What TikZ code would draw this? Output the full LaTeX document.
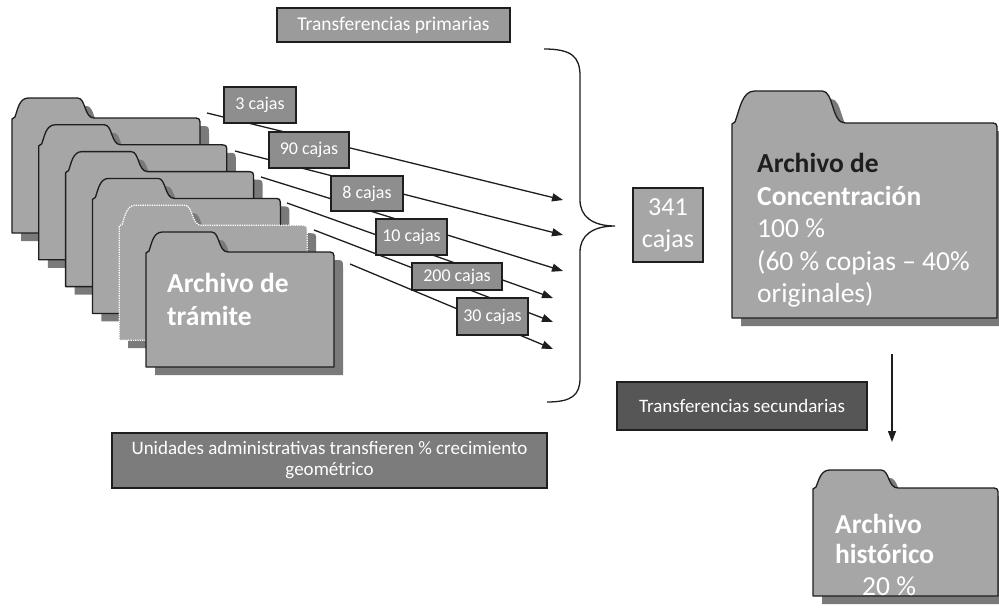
\documentclass[tikz,border=0pt]{standalone}
\usepackage{fontspec}
\setmainfont{Carlito}
\usetikzlibrary{arrows.meta}
\definecolor{fold}{HTML}{A6A6A6}
\definecolor{shad}{HTML}{7A7A7A}
\definecolor{labc}{HTML}{8E8E8E}
\definecolor{primc}{HTML}{9B9B9B}
\definecolor{unidc}{HTML}{7C7C7C}
\definecolor{secuc}{HTML}{565656}
\definecolor{edgec}{HTML}{1E1E1E}
% folder outline: L T W H tabheight tabwidth
\newcommand\fpath[6]{({#1},{#2+#4}) -- ({#1},{#2+#5+1}) -- ({#1+3},{#2+#5-1})
  .. controls ({#1+0.07*#6},{#2+0.55*#5}) and ({#1+0.09*#6},{#2}) .. ({#1+0.2*#6},{#2})
  -- ({#1+0.8*#6},{#2})
  .. controls ({#1+0.9*#6},{#2}) and ({#1+0.88*#6},{#2+#5}) .. ({#1+#6},{#2+#5})
  -- ({#1+#3-8},{#2+#5}) .. controls ({#1+#3},{#2+#5}) .. ({#1+#3},{#2+#5+8})
  -- ({#1+#3},{#2+#4}) -- cycle}
\newcommand\drawfolder[7]{%
  \fill[shad,shift={(9,8)}] \fpath{#1}{#2}{#3}{#4}{#5}{#6};
  \path[#7] \fpath{#1}{#2}{#3}{#4}{#5}{#6};}
\begin{document}
\begin{tikzpicture}[x=1pt,y=-1pt,
  folder/.style={fill=fold, draw=edgec, line width=1.3pt, line join=round},
  ghostfolder/.style={fill=fold, draw=white, line width=1.3pt, densely dotted},
  arr/.style={draw=edgec, line width=1.3pt, -{Triangle[length=11pt,width=8pt]}},
  labbox/.style={fill=labc, draw=edgec, line width=1.2pt, text=white,
    font=\fontsize{18}{21}\selectfont, inner sep=0pt, align=center},
  capfont/.style={font=\fontsize{19}{21}\selectfont},
  bigw/.style={text=white, font=\fontsize{27.5}{33}\selectfont\bfseries, inner sep=0pt},
  regw/.style={text=white, font=\fontsize{27.5}{33}\selectfont, inner sep=0pt}]
\clip (0,0) rectangle (999,608);
\fill[white] (0,0) rectangle (999,608);
% stack of folders (archivo de tramite)
\drawfolder{12}{98}{188}{135}{20}{82}{folder}
\drawfolder{38.8}{124.8}{188}{135}{20}{82}{folder}
\drawfolder{65.6}{151.6}{188}{135}{20}{82}{folder}
\drawfolder{92.4}{178.4}{188}{135}{20}{82}{folder}
\drawfolder{119.2}{205.2}{188}{135}{20}{82}{ghostfolder}
\drawfolder{146}{232}{188}{135}{20}{82}{folder}
\node[bigw, anchor=base west] (t1) at (167,292) {Archivo de};
\node[bigw, anchor=base west] (t2) at (167,325) {trámite};
% archivo de concentracion
\drawfolder{732}{91}{265}{227}{32}{113}{folder}
\node[bigw, text=edgec, anchor=base west] (c1) at (757,172) {Archivo de};
\node[bigw, anchor=base west] (c2) at (757,205) {Concentración};
\node[regw, anchor=base west] (c3) at (757,237) {100 \%};
\node[regw, anchor=base west] (c4) at (757,270) {(60 \% copias – 40\%};
\node[regw, anchor=base west] (c5) at (757,302) {originales)};
% archivo historico
\drawfolder{813}{470}{185}{126}{18}{85}{folder}
\node[bigw, anchor=base west] (h1) at (835,533) {Archivo};
\node[bigw, anchor=base west] (h2) at (835,563) {histórico};
\node[regw, anchor=base west] (h3) at (862,595) {20 \%};
% arrow end points
\coordinate (s1) at (207,113); \coordinate (e1) at (563,200);
\coordinate (s2) at (235,151); \coordinate (e2) at (563,235);
\coordinate (s3) at (261,177); \coordinate (e3) at (563,271);
\coordinate (s4) at (287,203); \coordinate (e4) at (553,298);
\coordinate (s5) at (314,230); \coordinate (e5) at (553,322);
\coordinate (s6) at (350,264); \coordinate (e6) at (553,349);
\coordinate (v1) at (892,354); \coordinate (v2) at (892,442);
\draw[arr] (s1) -- (e1);
\draw[arr] (s2) -- (e2);
\draw[arr] (s3) -- (e3);
\draw[arr] (s4) -- (e4);
\draw[arr] (s5) -- (e5);
\draw[arr] (s6) -- (e6);
\draw[arr] (v1) -- (v2);
% labels
\node[labbox, minimum width=72, minimum height=36] (l1) at (260,105) {3 cajas};
\node[labbox, minimum width=80, minimum height=36] (l2) at (309,150) {90 cajas};
\node[labbox, minimum width=72, minimum height=35] (l3) at (367,193.5) {8 cajas};
\node[labbox, minimum width=71, minimum height=36] (l4) at (411.5,237) {10 cajas};
\node[labbox, minimum width=90, minimum height=27] (l5) at (457,276.5) {200 cajas};
\node[labbox, minimum width=71, minimum height=37] (l6) at (492.5,316.5) {30 cajas};
% brace
\draw[draw=edgec, line width=1.3pt] (544,49) .. controls (572,49) and (580,57) .. (580,76)
  -- (580,200) .. controls (580,216) and (592,226) .. (615,226)
  .. controls (592,226) and (580,236) .. (580,252)
  -- (580,378) .. controls (580,395) and (572,402) .. (547,402);
% total
\node[labbox, minimum width=70, minimum height=74, fill=fold,
  font=\fontsize{26}{32}\selectfont] (tot) at (668,225) {341\\cajas};
% captions
\node[labbox, capfont, font=\fontsize{19.5}{21}\selectfont, minimum width=233, minimum height=34, fill=primc] (tp) at (393.5,25) {Transferencias primarias};
\node[labbox, capfont, minimum width=250, minimum height=48, fill=secuc] (ts) at (742,406) {Transferencias secundarias};
\node[labbox, capfont, minimum width=435, minimum height=55, fill=unidc] (ua) at (329.5,460.5)
  {Unidades administrativas transfieren \% crecimiento\\geométrico};
\end{tikzpicture}
\end{document}
